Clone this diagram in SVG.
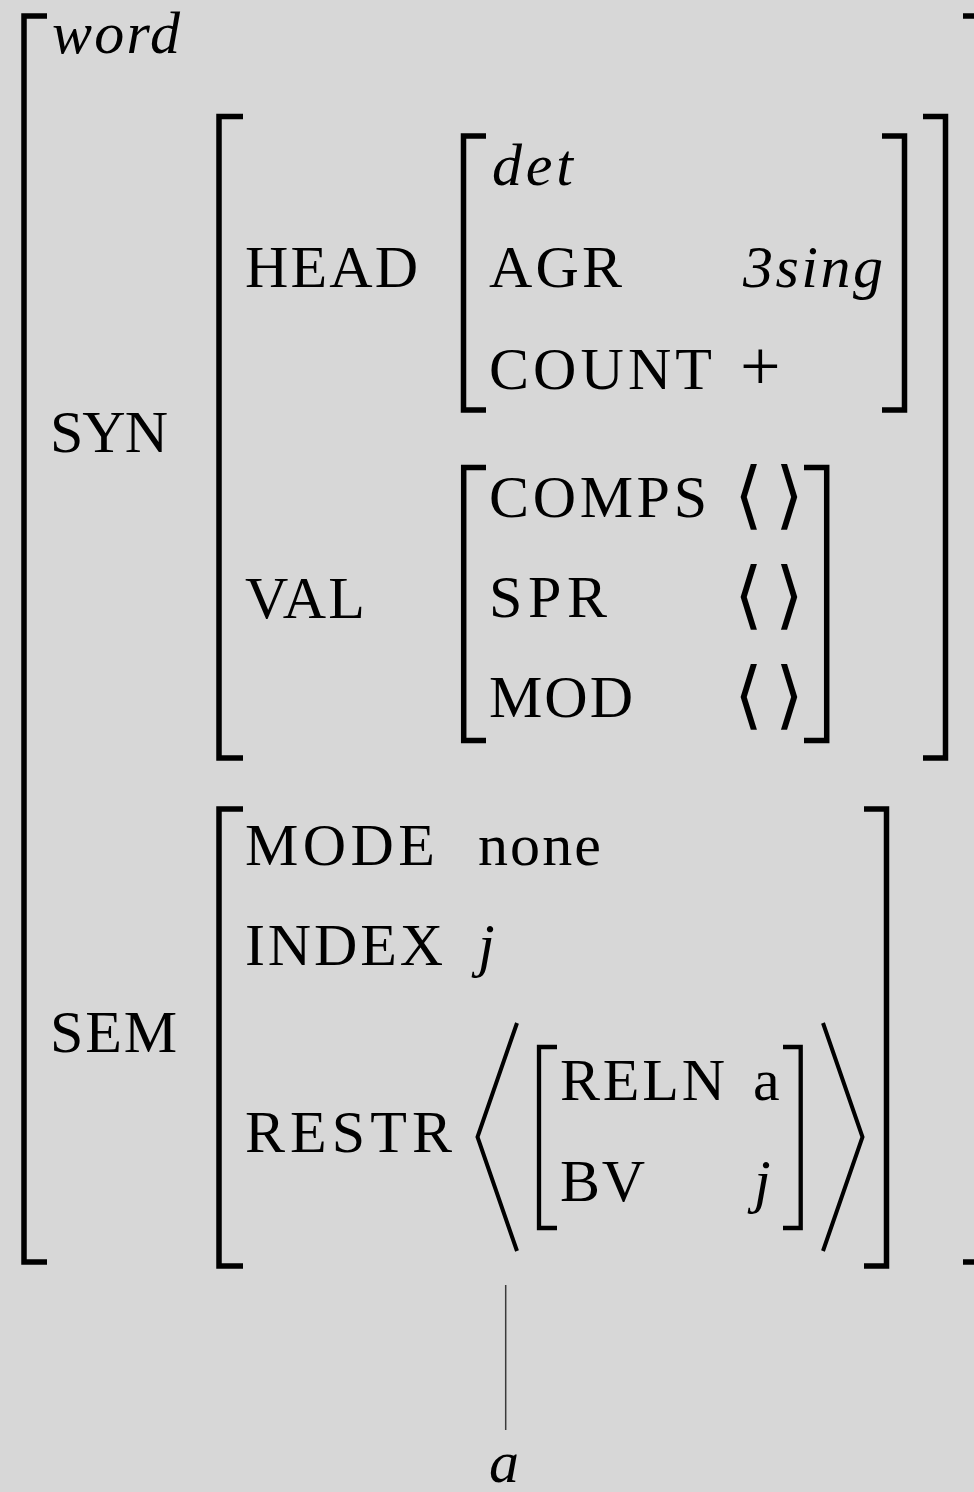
<svg xmlns="http://www.w3.org/2000/svg" width="974" height="1492" viewBox="0 0 974 1492">
<style>
.t{font-family:"Liberation Serif",serif;font-size:60px;fill:#000}
.i{font-style:italic}
.m{font-family:"DejaVu Serif","DejaVu Sans",serif;font-size:74px;fill:#000}
.p{font-family:"Liberation Serif",serif;font-size:72px;fill:#000}
.br{fill:none;stroke:#000;stroke-width:5.5;stroke-linejoin:miter;stroke-linecap:butt}
.sb{fill:none;stroke:#000;stroke-width:4.3;stroke-linejoin:miter;stroke-linecap:butt}
.ang{fill:none;stroke:#000;stroke-width:4;stroke-linejoin:miter;stroke-linecap:butt}
.ln{stroke:#3a3a3a;stroke-width:1.5;fill:none}
</style>
<rect width="974" height="1492" fill="#d7d7d7"/>
<g id="word">
<path class="br" d="M47,16 H24 V1262 H47"/>
<path class="br" d="M963,16 H978 V1262 H963"/>
<text class="t i" x="52" y="53" textLength="128">word</text>
<text class="t" x="50" y="452" textLength="118">SYN</text>
<text class="t" x="50" y="1052" textLength="127">SEM</text>
</g>
<g id="syn">
<path class="br" d="M243,116.5 H219 V758 H243"/>
<path class="br" d="M923,116.5 H945.5 V758 H923"/>
<text class="t" x="245" y="287" textLength="173">HEAD</text>
<text class="t" x="245" y="618" textLength="120">VAL</text>
</g>
<g id="head">
<path class="br" d="M486,136 H463.5 V410 H486"/>
<path class="br" d="M882,136 H904.5 V410 H882"/>
<text class="t i" x="492" y="185" textLength="81">det</text>
<text class="t" x="489" y="287" textLength="133">AGR</text>
<text class="t i" x="743" y="287" textLength="140">3sing</text>
<text class="t" x="489" y="389" textLength="223">COUNT</text>
<text class="p" x="740" y="390">+</text>
</g>
<g id="val">
<path class="br" d="M486,467.5 H463.7 V740.5 H486"/>
<path class="br" d="M804,467.5 H826.7 V740.5 H804"/>
<text class="t" x="489" y="517" textLength="218">COMPS</text>
<text class="m" x="734" y="520">⟨</text>
<text class="m" x="775" y="520">⟩</text>
<text class="t" x="489" y="617" textLength="118">SPR</text>
<text class="m" x="734" y="620">⟨</text>
<text class="m" x="775" y="620">⟩</text>
<text class="t" x="489" y="717" textLength="144">MOD</text>
<text class="m" x="734" y="720">⟨</text>
<text class="m" x="775" y="720">⟩</text>
</g>
<g id="sem">
<path class="br" d="M243,809 H219 V1266 H243"/>
<path class="br" d="M864,809 H886.5 V1266 H864"/>
<text class="t" x="245" y="865" textLength="190">MODE</text>
<text class="t" x="478" y="865" textLength="123">none</text>
<text class="t" x="245" y="965" textLength="198">INDEX</text>
<text class="t i" x="478" y="965">j</text>
<text class="t" x="245" y="1152" textLength="207">RESTR</text>
<polyline class="ang" points="517,1023 477.5,1137 517,1251"/>
<polyline class="ang" points="823,1023 862.5,1137 823,1251"/>
</g>
<g id="restr">
<path class="sb" d="M557,1047 H539 V1228 H557"/>
<path class="sb" d="M783,1047 H800.7 V1228 H783"/>
<text class="t" x="560" y="1100" textLength="165">RELN</text>
<text class="t" x="753" y="1100" textLength="29">a</text>
<text class="t" x="560" y="1201" textLength="85">BV</text>
<text class="t i" x="754" y="1201">j</text>
</g>
<g id="leaf">
<text class="t i" x="489" y="1482">a</text>
</g>
<g id="connectors">
<line class="ln" x1="505.7" y1="1285" x2="505.7" y2="1430"/>
</g>
</svg>
